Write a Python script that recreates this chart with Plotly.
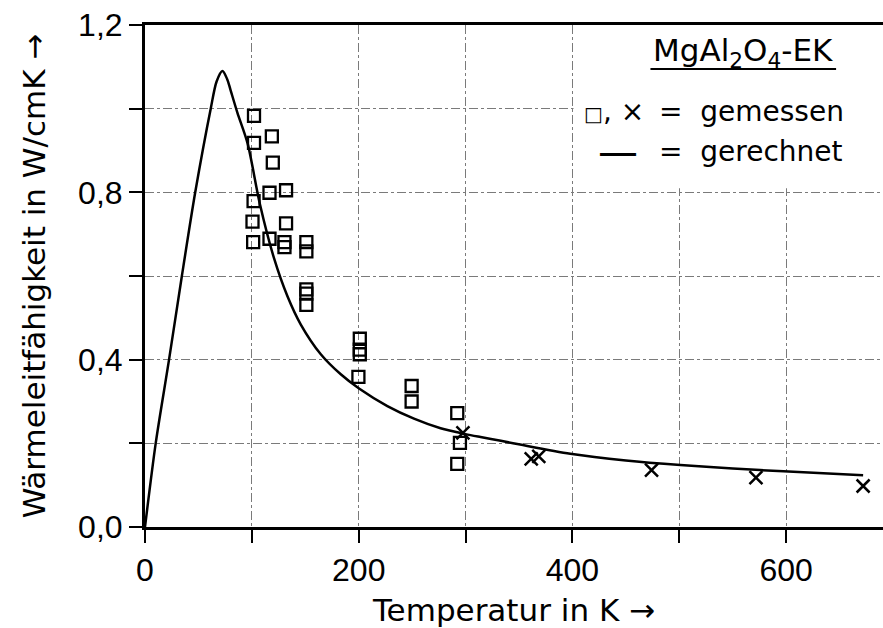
import plotly.graph_objects as go

# Wärmeleitfähigkeit von MgAl2O4-Einkristall
# gemessene Werte (Quadrate)
T_sq = [102, 102, 118.7, 119.6, 101.6, 116.5, 132, 100.6, 132, 101.2, 116.5,
        130.5, 130.5, 151, 151, 151, 151, 151, 201, 201, 201, 199.7,
        249.5, 249.5, 292.2, 294.7, 292.2]
k_sq = [0.983, 0.918, 0.934, 0.871, 0.779, 0.799, 0.805, 0.730, 0.726, 0.681, 0.689,
        0.681, 0.669, 0.681, 0.659, 0.568, 0.558, 0.531, 0.450, 0.424, 0.413, 0.359,
        0.337, 0.300, 0.272, 0.201, 0.151]

# gemessene Werte (Kreuze)
T_x = [297.5, 361.4, 368.5, 474, 571.7, 672]
k_x = [0.225, 0.163, 0.169, 0.136, 0.118, 0.098]

# gerechnete Kurve
T_calc = [0, 10, 22.5, 34.5, 47, 61.5, 67, 72.5, 77, 80, 86.5, 96, 107.5, 120.8,
          133.4, 145.8, 164.5, 183.2, 200.3, 226.8, 251.7, 276.6, 300, 314, 333,
          351, 398, 450, 501, 550, 597.5, 672]
k_calc = [0, 0.2, 0.4, 0.6, 0.8, 1.0, 1.065, 1.09, 1.07, 1.045, 0.99, 0.917, 0.772, 0.642,
          0.551, 0.484, 0.413, 0.365, 0.331, 0.289, 0.259, 0.236, 0.222, 0.215, 0.206,
          0.197, 0.175, 0.159, 0.148, 0.140, 0.133, 0.124]

TICK_FONT = dict(family="Liberation Sans, Arial, sans-serif", size=32, color="black")
TEXT_FONT = dict(family="DejaVu Sans, sans-serif", size=31, color="black")
LEG_FONT = dict(family="DejaVu Sans, sans-serif", size=28, color="black")

fig = go.Figure()

fig.add_trace(go.Scatter(
    x=T_calc, y=k_calc, mode="lines",
    line=dict(color="black", width=2.5, shape="spline", smoothing=0.8),
    hoverinfo="skip", showlegend=False))

fig.add_trace(go.Scatter(
    x=T_sq, y=k_sq, mode="markers",
    marker=dict(symbol="square-open", size=12, color="black", line=dict(width=2.3, color="black")),
    showlegend=False))

fig.add_trace(go.Scatter(
    x=T_x, y=k_x, mode="markers",
    marker=dict(symbol="x-thin-open", size=13, color="black", line=dict(width=2.5, color="black")),
    showlegend=False))

GRID_COLOR = "#7a7a7a"

fig.update_xaxes(
    range=[0, 690.6], tick0=0, dtick=200,
    ticks="outside", ticklen=13, tickwidth=1.5, tickcolor="black",
    showline=True, linecolor="black", linewidth=3, mirror=True,
    showgrid=True, gridcolor=GRID_COLOR, gridwidth=1, griddash="dashdot", zeroline=False,
    minor=dict(dtick=100, tick0=0, ticks="outside", ticklen=13, tickwidth=1.5, tickcolor="black",
               showgrid=True, gridcolor=GRID_COLOR, gridwidth=1, griddash="dashdot"),
    tickfont=TICK_FONT,
    title=dict(text="Temperatur in K →", font=TEXT_FONT, standoff=18))

fig.update_yaxes(
    range=[0, 1.2], tick0=0, dtick=0.4, tickformat=".1f",
    ticks="outside", ticklen=13, tickwidth=1.5, tickcolor="black",
    showline=True, linecolor="black", linewidth=3,
    showgrid=True, gridcolor=GRID_COLOR, gridwidth=1, griddash="dashdot", zeroline=False,
    minor=dict(dtick=0.2, tick0=0, ticks="outside", ticklen=13, tickwidth=1.5, tickcolor="black",
               showgrid=True, gridcolor=GRID_COLOR, gridwidth=1, griddash="dashdot"),
    tickfont=TICK_FONT,
    title=dict(text="Wärmeleitfähigkeit in W/cmK →", font=TEXT_FONT, standoff=24))

# Legendenfeld (verdeckt das Gitter)
fig.add_shape(type="rect", xref="x", yref="y", x0=401, x1=700, y0=0.81, y1=1.2,
              fillcolor="white", line=dict(width=0), layer="between")

fig.add_annotation(xref="x", yref="y", x=646, y=1.135, xanchor="right", yanchor="middle",
                   text="MgAl<sub>2</sub>O<sub>4</sub>-EK", showarrow=False,
                   font=dict(family="DejaVu Sans, sans-serif", size=31, color="black"))
fig.add_shape(type="line", xref="x", yref="y", x0=473, x1=646.7, y0=1.095, y1=1.095,
              line=dict(color="black", width=2), layer="above")

fig.add_annotation(xref="x", yref="y", x=469, y=0.994, xanchor="right", yanchor="middle",
                   text="<span style='font-size:20px'>□</span>, ×", showarrow=False, font=LEG_FONT)
fig.add_annotation(xref="x", yref="y", x=479, y=0.994, xanchor="left", yanchor="middle",
                   text="=  gemessen", showarrow=False, font=LEG_FONT)
fig.add_annotation(xref="x", yref="y", x=463, y=0.897, xanchor="right", yanchor="middle",
                   text="—", showarrow=False, font=dict(family="DejaVu Sans, sans-serif", size=40, color="black"))
fig.add_annotation(xref="x", yref="y", x=479, y=0.897, xanchor="left", yanchor="middle",
                   text="=  gerechnet", showarrow=False, font=LEG_FONT)

fig.update_layout(
    width=883, height=628,
    margin=dict(l=145, r=0, t=25, b=96),
    plot_bgcolor="white", paper_bgcolor="white",
    separators=",.",
    showlegend=False,
)

fig.write_html("out.html", config={"displayModeBar": False})
